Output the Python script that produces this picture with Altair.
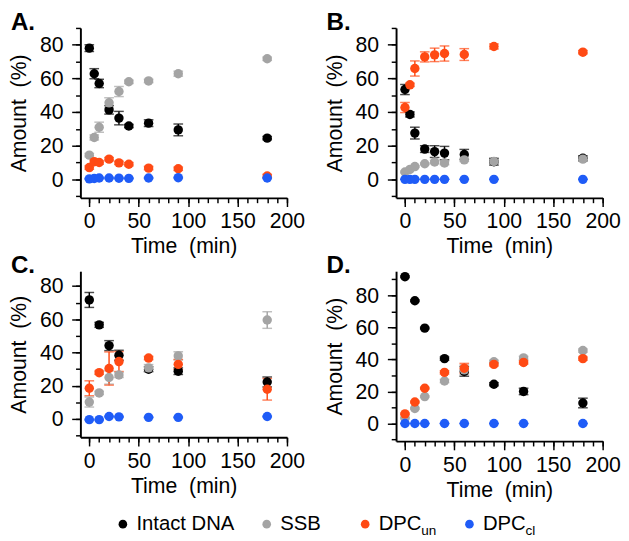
import altair as alt
import pandas as pd

FONT = "Liberation Sans"

series = ["Intact DNA", "SSB", "DPC_un", "DPC_cl"]
colors = ["#000000", "#a4a4a4", "#ff4a14", "#1f5cf7"]

# ---- Panel A ----
A_time = [0, 5, 10, 20, 30, 40, 60, 90, 180]
A_intact = [78, 62.8, 57, 41.3, 36.4, 31.7, 33.4, 29.4, 24.5]
A_intact_err = [2, 3, 2.5, 2.5, 4, 1, 2, 3.5, 1]
A_ssb = [14.4, 24.9, 31, 45.5, 52.2, 58, 58.5, 62.8, 71.7]
A_ssb_err = [1, 1.5, 3, 3, 3, 1, 1, 1.5, 1]
A_un = [7, 10.5, 10, 12, 9.8, 9, 6.7, 6.3, 2]
A_un_err = [1, 1, 1, 1, 1, 1, 1, 1, 1]
A_cl = [0.3, 0.5, 0.8, 0.8, 0.7, 0.6, 0.8, 1, 0.8]
A_cl_err = [0.3, 0.3, 0.3, 0.3, 0.3, 0.3, 0.3, 0.3, 0.3]

# ---- Panel B ----
B_time = [0, 5, 10, 20, 30, 40, 60, 90, 180]
B_intact = [53.4, 38.6, 27.5, 18, 16.5, 15.6, 14.8, 10.5, 12.5]
B_intact_err = [3, 1.5, 3.5, 2, 3.5, 4, 3, 2, 1.5]
B_ssb = [4.4, 5.9, 7.6, 9.3, 10.3, 9.7, 11.6, 10.6, 12]
B_ssb_err = [0.5, 0.5, 0.5, 0.5, 1, 1, 1, 1, 1]
B_un = [42.7, 56.2, 65.9, 72.8, 74, 74.8, 74.2, 79, 75.6]
B_un_err = [3, 1, 4.5, 3, 4, 4.5, 3.5, 1.5, 1]
B_cl = [0, 0, 0, 0, 0, 0, 0, 0, 0]
B_cl_err = [0, 0, 0, 0, 0, 0, 0, 0, 0]

# ---- Panel C ----
C_time = [0, 10, 20, 30, 60, 90, 180]
C_intact = [71.7, 56.7, 44.2, 38.4, 30, 28.8, 22.3]
C_intact_err = [4.5, 1.5, 3, 3, 1.5, 2, 3]
C_ssb = [10.2, 15.7, 25, 26.5, 30.8, 38, 59.6]
C_ssb_err = [3, 1, 4, 1.5, 2, 2.5, 5]
C_un = [18.5, 27.9, 30.4, 34.6, 36.7, 32.9, 17.9]
C_un_err = [4.5, 1, 10, 6, 1, 3, 6.5]
C_cl = [-0.4, -0.4, 1.5, 1.3, 1, 1, 1.5]
C_cl_err = [0.3, 0.3, 0.3, 0.3, 0.3, 0.3, 0.3]

# ---- Panel D ----
D_time = [0, 10, 20, 40, 60, 90, 120, 180]
D_intact = [91.6, 76.6, 59.5, 40.5, 32.5, 24.5, 20, 12.8]
D_intact_err = [0.5, 0.5, 0.5, 1, 3, 1, 2, 3]
D_ssb = [3.4, 9.4, 16.8, 26.5, 33.5, 38.5, 40.9, 45.5]
D_ssb_err = [0.5, 0.5, 0.5, 1, 3, 1, 1, 1]
D_un = [6, 13.4, 22, 31.9, 34.5, 36.9, 38.1, 40.5]
D_un_err = [0.5, 0.5, 0.5, 1, 3, 1, 1, 1]
D_cl = [0, 0, 0, 0, 0, 0, 0, 0]
D_cl_err = [0, 0, 0, 0, 0, 0, 0, 0]

x_major = [0, 50, 100, 150, 200]
x_minor = list(range(0, 201, 10))
y_major = [0, 20, 40, 60, 80]
y_minor = list(range(-10, 91, 10))

cscale = alt.Scale(domain=series, range=colors)


def make_df(t, groups):
    rows = []
    for order, (name, vals, errs) in enumerate(groups):
        for ti, v, e in zip(t, vals, errs):
            rows.append({"time": ti, "value": v, "lo": v - e, "hi": v + e,
                         "series": name, "ord": order})
    return pd.DataFrame(rows)


def axis_common(**kw):
    base = dict(grid=False, domainColor="black", domainWidth=2, tickColor="black",
                tickWidth=1.5, labelFont=FONT, titleFont=FONT, labelFontSize=22,
                titleFontSize=22, labelColor="black", titleColor="black",
                titleFontWeight="normal", labelOverlap=False, labelFlush=False)
    base.update(kw)
    return alt.Axis(**base)


def panel(letter, df, ydom, height):
    xs = alt.Scale(domain=[-9, 200], nice=False, zero=False)
    ys = alt.Scale(domain=ydom, nice=False, zero=False)
    base = alt.Chart(df)
    minor = base.mark_point(opacity=0).encode(
        x=alt.X("time:Q", scale=xs, axis=axis_common(
            values=x_minor, labels=False, tickSize=5, domain=False, title="", orient="bottom")),
        y=alt.Y("value:Q", scale=ys, axis=axis_common(
            values=[v for v in y_minor if v <= ydom[1]], labels=False, tickSize=5,
            domain=False, title="", orient="left")),
    )
    X = alt.X("time:Q", scale=xs, axis=axis_common(
        values=x_major, tickSize=9, labelPadding=5, titlePadding=5,
        title="Time\u00a0 (min)", orient="bottom"))
    Y = alt.Y("value:Q", scale=ys, axis=axis_common(
        values=y_major, tickSize=9, labelPadding=9, titlePadding=9,
        title="Amount\u00a0 (%)", orient="left"))
    col = alt.Color("series:N", scale=cscale, legend=None)
    Xn = alt.X("time:Q", scale=xs, axis=None)
    rules = base.mark_rule(strokeWidth=1.5).encode(
        x=Xn, y=alt.Y("lo:Q", scale=ys, axis=None), y2="hi:Q", color=col)
    cap_lo = base.mark_tick(orient="horizontal", size=10, thickness=1.5).encode(
        x=Xn, y=alt.Y("lo:Q", scale=ys, axis=None), color=col)
    cap_hi = base.mark_tick(orient="horizontal", size=10, thickness=1.5).encode(
        x=Xn, y=alt.Y("hi:Q", scale=ys, axis=None), color=col)
    pts = base.mark_circle(size=95, opacity=1).encode(
        x=X, y=Y, color=col, order=alt.Order("ord:Q"))
    lab = alt.Chart(pd.DataFrame({"t": [letter]})).mark_text(
        align="left", baseline="top", font=FONT, fontSize=25, fontWeight="bold",
        color="black").encode(text="t:N", x=alt.value(-72), y=alt.value(-18))
    return alt.layer(minor, rules, cap_lo, cap_hi, pts, lab).resolve_axis(
        x="independent", y="independent").properties(width=214, height=height)


dfA = make_df(A_time, [("Intact DNA", A_intact, A_intact_err), ("SSB", A_ssb, A_ssb_err),
                       ("DPC_un", A_un, A_un_err), ("DPC_cl", A_cl, A_cl_err)])
dfB = make_df(B_time, [("Intact DNA", B_intact, B_intact_err), ("SSB", B_ssb, B_ssb_err),
                       ("DPC_un", B_un, B_un_err), ("DPC_cl", B_cl, B_cl_err)])
dfC = make_df(C_time, [("Intact DNA", C_intact, C_intact_err), ("SSB", C_ssb, C_ssb_err),
                       ("DPC_un", C_un, C_un_err), ("DPC_cl", C_cl, C_cl_err)])
dfD = make_df(D_time, [("Intact DNA", D_intact, D_intact_err), ("SSB", D_ssb, D_ssb_err),
                       ("DPC_un", D_un, D_un_err), ("DPC_cl", D_cl, D_cl_err)])

pA = panel("A.", dfA, [-11, 90], 176)
pB = panel("B.", dfB, [-11, 90], 176)
pC = panel("C.", dfC, [-11, 89], 172)
pD = panel("D.", dfD, [-11, 95], 176)

# ---- custom legend (with subscripts) ----
leg_labels = ["Intact DNA", "SSB", "DPC", "DPC"]
leg_subs = ["", "", "un", "cl"]
leg_pos = [44, 193, 295, 403]
leg_df = pd.DataFrame({"series": series, "label": leg_labels, "sub": leg_subs})
leg_layers = []
for i, s in enumerate(series):
    b = alt.Chart(leg_df).transform_filter(alt.datum.series == s)
    leg_layers.append(b.mark_circle(size=80, opacity=1).encode(
        x=alt.value(leg_pos[i]), y=alt.value(10), color=alt.Color("series:N", scale=cscale, legend=None)))
    leg_layers.append(b.mark_text(align="left", baseline="middle", dx=14, font=FONT,
                                  fontSize=21, color="black").encode(
        x=alt.value(leg_pos[i]), y=alt.value(10), text="label:N"))
    if leg_subs[i]:
        leg_layers.append(b.mark_text(align="left", baseline="middle", dx=58, dy=7, font=FONT,
                                      fontSize=14, color="black").encode(
            x=alt.value(leg_pos[i]), y=alt.value(10), text="sub:N"))
legend = alt.layer(*leg_layers).properties(width=480, height=20)

chart = alt.vconcat(
    alt.vconcat(
        alt.hconcat(pA, pB, spacing=19),
        alt.hconcat(pC, pD, spacing=19),
        spacing=-3,
    ),
    legend,
    spacing=14,
).properties(padding={"left": 0, "top": -7, "right": 0, "bottom": 0}).configure(
    background="white", view=alt.ViewConfig(stroke=None))

chart.save("out.html", embed_options={"renderer": "svg", "actions": False})
